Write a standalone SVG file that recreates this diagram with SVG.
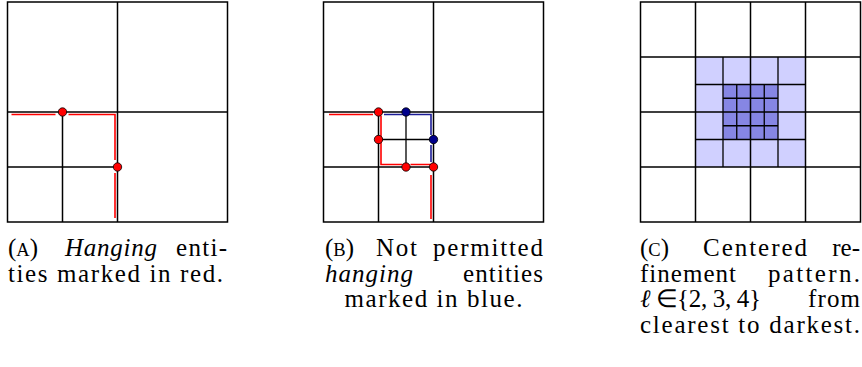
<svg xmlns="http://www.w3.org/2000/svg" width="862" height="367" viewBox="0 0 862 367">
<style>
.g{fill:none;stroke:#000;stroke-width:1.5}
.f{fill:none;stroke:#000;stroke-width:1.3}
.r{fill:none;stroke:#ff0000;stroke-width:1.6}
.b{fill:none;stroke:#1c1c96;stroke-width:1.6}
.dr{fill:#ff0000;stroke:#000;stroke-width:0.8}
.db{fill:#00008b;stroke:#000;stroke-width:0.8}
.l2{fill:#d0d0ff}
.l4{fill:#8686e4}
text{font-family:'Liberation Serif','Times New Roman',serif;font-size:25px;fill:#000}
.it{font-style:italic}
.sc{font-size:18.5px}
</style>
<rect width="862" height="367" fill="#fff"/>

<g id="panel-a">
  <rect class="g" x="7.5" y="2" width="220" height="220"/>
  <path class="g" d="M117.5 2V222M7.5 112H227.5"/>
  <path class="g" d="M62.5 112V222M7.5 167H117.5"/>
  <path class="r" d="M11.5 114.5H55.5M68.5 114.5H115V160M115 173V218"/>
  <circle class="dr" cx="62.5" cy="112" r="4.2"/>
  <circle class="dr" cx="117.5" cy="167" r="4.2"/>
</g>

<g id="panel-b">
  <rect class="g" x="323.5" y="2" width="220" height="220"/>
  <path class="g" d="M433.5 2V222M323.5 112H543.5"/>
  <path class="g" d="M378.5 112V222M323.5 167H433.5"/>
  <path class="f" d="M406 112V167M378.5 139.5H433.5"/>
  <path class="r" d="M329 114.5H373M381 115.5V164.5H402.5M410.5 164.5H431M431 175V219"/>
  <path class="b" d="M384 114.5H431V135M431 145V162"/>
  <circle class="dr" cx="378.5" cy="112" r="4.2"/>
  <circle class="db" cx="406" cy="112" r="4.2"/>
  <circle class="dr" cx="378.5" cy="139.5" r="4.2"/>
  <circle class="db" cx="433.5" cy="139.5" r="4.2"/>
  <circle class="dr" cx="406" cy="167" r="4.2"/>
  <circle class="dr" cx="433.5" cy="167" r="4.2"/>
</g>

<g id="panel-c">
  <rect class="l2" x="695.5" y="57" width="110" height="110"/>
  <rect class="l4" x="723" y="84.5" width="55" height="55"/>
  <path class="f" d="M736.75 84.5V139.5M764.25 84.5V139.5M723 98.25H778M723 125.75H778"/>
  <path class="f" d="M723 57V167M778 57V167M695.5 84.5H805.5M695.5 139.5H805.5"/>
  <rect class="g" x="640.5" y="2" width="220" height="220"/>
  <path class="g" d="M695.5 2V222M750.5 2V222M805.5 2V222M640.5 57H860.5M640.5 112H860.5M640.5 167H860.5"/>
</g>

<g id="caption-a">
  <text x="8" y="256">(<tspan class="sc">A</tspan>)</text>
  <text class="it" x="65" y="256" textLength="92" lengthAdjust="spacing">Hanging</text>
  <text x="227" y="256" text-anchor="end" textLength="51" lengthAdjust="spacing">enti-</text>
  <text x="8" y="281.5" textLength="215" lengthAdjust="spacing">ties marked in red.</text>
</g>

<g id="caption-b">
  <text x="325" y="256">(<tspan class="sc">B</tspan>)</text>
  <text x="376" y="256" textLength="41" lengthAdjust="spacing">Not</text>
  <text x="543" y="256" text-anchor="end" textLength="110" lengthAdjust="spacing">permitted</text>
  <text class="it" x="325" y="281.5" textLength="88" lengthAdjust="spacing">hanging</text>
  <text x="543" y="281.5" text-anchor="end" textLength="80" lengthAdjust="spacing">entities</text>
  <text x="433.5" y="307" text-anchor="middle" textLength="178" lengthAdjust="spacing">marked in blue.</text>
</g>

<g id="caption-c">
  <text x="640" y="256">(<tspan class="sc">C</tspan>)</text>
  <text x="703" y="256" textLength="104" lengthAdjust="spacing">Centered</text>
  <text x="860" y="256" text-anchor="end">re-</text>
  <text x="640" y="281.5" textLength="96" lengthAdjust="spacing">finement</text>
  <text x="860" y="281.5" text-anchor="end" textLength="92" lengthAdjust="spacing">pattern.</text>
  <text class="it" x="640" y="307">ℓ</text>
  <text x="656" y="307" font-size="22">∈</text>
  <text x="677" y="307" textLength="84" lengthAdjust="spacing">{2, 3, 4}</text>
  <text x="860" y="307" text-anchor="end" textLength="52" lengthAdjust="spacing">from</text>
  <text x="640" y="332.5" textLength="220" lengthAdjust="spacing">clearest to darkest.</text>
</g>
</svg>
